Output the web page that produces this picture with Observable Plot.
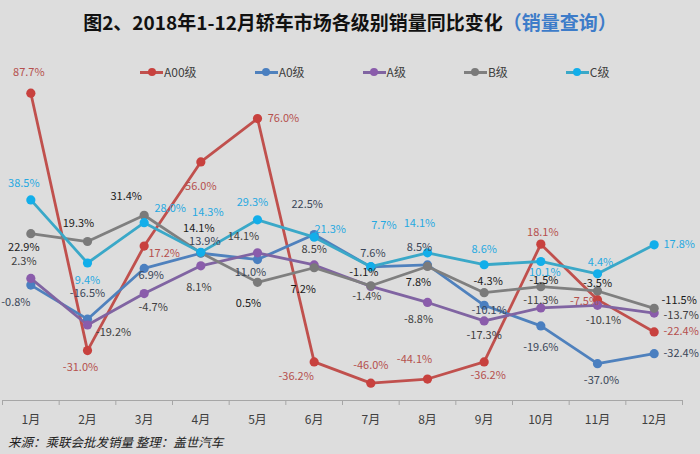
<!DOCTYPE html>
<html>
<head>
<meta charset="utf-8">
<script src="https://cdn.jsdelivr.net/npm/d3@7"></script>
<script src="https://cdn.jsdelivr.net/npm/@observablehq/plot@0.6"></script>
<style>
  html, body { margin: 0; padding: 0; background: #dddddd; }
  body { width: 700px; height: 454px; overflow: hidden; font-family: "Noto Sans CJK SC", "Noto Sans", sans-serif; }
  #wrap { position: relative; width: 700px; height: 454px; }
  #title { height: 58px; line-height: 44px; text-align: center; font-size: 19px; font-weight: bold; color: #111; white-space: nowrap; }
  #title .sub { color: #3d7cc9; }
  #legend { position: absolute; top: 64px; left: 140px; height: 16px; display: flex; gap: 58px; font-size: 12px; color: #404040; line-height: 16px; }
  .item { display: flex; align-items: center; }
  .sw { position: relative; width: 23px; height: 16px; margin-right: 1px; }
  .sw .ln { position: absolute; left: 0; top: 6.5px; width: 23px; height: 3px; }
  .sw .dt { position: absolute; left: 7.5px; top: 4px; width: 8px; height: 8px; border-radius: 50%; }
  #caption { height: 24px; line-height: 24px; padding-left: 8px; font-size: 12.5px; font-style: italic; color: #222; }
  svg { display: block; }
</style>
</head>
<body>
<div id="wrap">
  <div id="title"></div>
  <div id="legend"></div>
  <div id="chart"></div>
  <div id="caption"></div>
</div>
<script>
// ---- data ----
const titleMain = "图2、2018年1-12月轿车市场各级别销量同比变化";
const titleSub = "（销量查询）";
const caption = "来源：乘联会批发销量 整理：盖世汽车";
const months = ["1月","2月","3月","4月","5月","6月","7月","8月","9月","10月","11月","12月"];
const seriesNames = ["A00级","A0级","A级","B级","C级"];
const a00Values = [87.7, -31.0, 17.2, 56.0, 76.0, -36.2, -46.0, -44.1, -36.2, 18.1, -7.5, -22.4];
const a0Values  = [-0.8, -16.5, 6.9, 13.9, 11.0, 22.5, 7.6, 8.5, -10.1, -19.6, -37.0, -32.4];
const aValues   = [2.3, -19.2, -4.7, 8.1, 14.1, 8.5, -1.4, -8.8, -17.3, -11.3, -10.1, -13.7];
const bValues   = [22.9, 19.3, 31.4, 14.1, 0.5, 7.2, -1.1, 7.8, -4.3, -1.5, -3.5, -11.5];
const cValues   = [38.5, 9.4, 28.0, 14.3, 29.3, 21.3, 7.7, 14.1, 8.6, 10.1, 4.4, 17.8];

// ---- styles / layout ----
const lineColors  = ["#c0504d", "#4f81bd", "#8064a2", "#7f7f7f", "#3aa8c8"];
const dotColors   = ["#c8413e", "#4a7fc0", "#8a5cab", "#7a7a7a", "#12aeea"];
const labelColors = ["#b5504d", "#3a4658", "#404040", "#1a1a1a", "#27a9e1"];
// label offsets relative to each point (px)
const labelOffsets = [
  [[-2,-21],[-7,17],[20,7],[0,25],[26,0],[-18,15],[0,-18],[-13,-20],[4,14],[2,-12],[-13,2],[27,0]],
  [[-15,17],[0,-26],[7,7],[4,-12],[-7,13],[-7,-30],[2,-13],[-8,-17],[5,5],[0,22],[4,17],[27,0]],
  [[-7,-17],[26,7],[9,14],[-2,22],[-14,-16],[0,-15],[-4,10],[-9,17],[0,15],[0,-7],[6,15],[27,2]],
  [[-7,14],[-9,-18],[-18,-19],[-2,-24],[-9,21],[-11,22],[-7,-13],[-9,16],[4,-11],[3,-6],[0,-8],[25,-8]],
  [[-7,-16],[0,17],[26,-14],[7,-40],[-5,-17],[16,-8],[13,-41],[-8,-29],[0,-15],[4,11],[3,-11],[25,0]]
];
const yMin = -54, yMax = 100;

const allValues = [a00Values, a0Values, aValues, bValues, cValues];
const rows = allValues.map((vals, s) => vals.map((v, i) => ({series: seriesNames[s], s, i: i + 1, v})));

// title
document.getElementById("title").innerHTML = titleMain + '<span class="sub">' + titleSub + '</span>';
document.getElementById("caption").textContent = caption;

// legend
const legend = document.getElementById("legend");
seriesNames.forEach((name, s) => {
  const it = document.createElement("div"); it.className = "item";
  const sw = document.createElement("div"); sw.className = "sw";
  const ln = document.createElement("div"); ln.className = "ln"; ln.style.background = lineColors[s];
  const dt = document.createElement("div"); dt.className = "dt"; dt.style.background = dotColors[s];
  sw.appendChild(ln); sw.appendChild(dt);
  const tx = document.createElement("span"); tx.textContent = name;
  it.appendChild(sw); it.appendChild(tx);
  legend.appendChild(it);
});

const marks = [];
marks.push(Plot.ruleY([yMin], {stroke: "#a6a6a6", strokeWidth: 1}));
marks.push(Plot.axisX(d3.range(0.5, 12.6, 1), {tickSize: 5, tickFormat: () => "", stroke: "#a6a6a6", label: null}));
marks.push(Plot.axisX(d3.range(1, 13), {tickSize: 0, tickPadding: 15, tickFormat: d => months[d - 1], fontSize: 12, fill: "#404040", label: null}));
rows.forEach((data, s) => {
  marks.push(Plot.line(data, {x: "i", y: "v", stroke: lineColors[s], strokeWidth: 2.8}));
  marks.push(Plot.dot(data, {x: "i", y: "v", r: 4.6, fill: dotColors[s], stroke: "none"}));
});
rows.forEach((data, s) => {
  data.forEach((d, k) => {
    const [dx, dy] = labelOffsets[s][k];
    marks.push(Plot.text([d], {x: "i", y: "v", text: r => r.v.toFixed(1) + "%", dx, dy, fill: labelColors[s], fontSize: 11}));
  });
});

const chart = Plot.plot({
  width: 700,
  height: 372,
  marginTop: 8,
  marginBottom: 30,
  marginLeft: 2,
  marginRight: 18,
  x: {type: "linear", domain: [0.5, 12.5], axis: null, label: null},
  y: {domain: [yMin, yMax], axis: null, label: null},
  style: {background: "transparent", fontFamily: "'Noto Sans CJK SC', 'Noto Sans', sans-serif", overflow: "visible"},
  marks
});
document.getElementById("chart").appendChild(chart);
</script>
</body>
</html>
